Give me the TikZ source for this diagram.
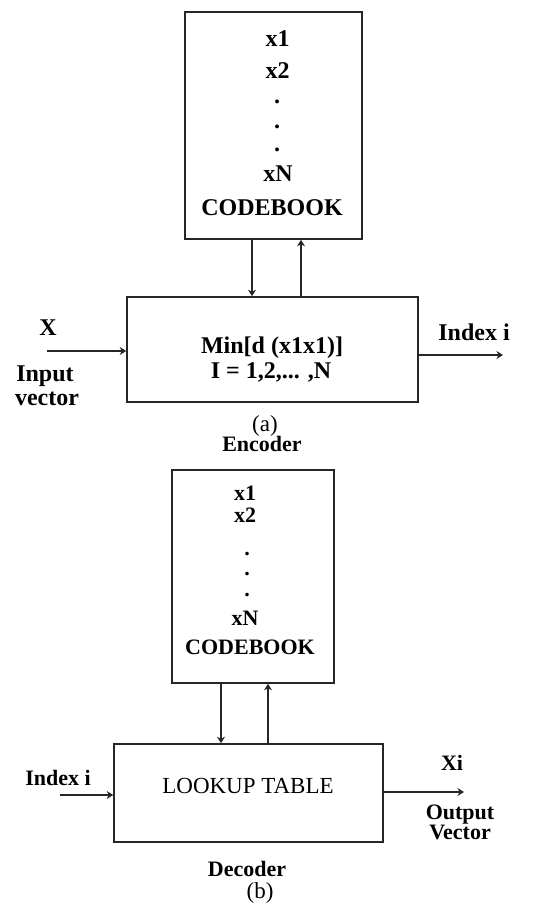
\documentclass[tikz,border=0pt]{standalone}
\usepackage{fontspec}
\setmainfont{Liberation Serif}
\usetikzlibrary{arrows.meta}
\begin{document}
\begin{tikzpicture}[x=1pt,y=-1pt,
  blk/.style={draw=black!85,line width=1.6pt,inner sep=0pt},
  lbl/.style={anchor=base,inner sep=0pt,font=\fontsize{24}{24}\selectfont\bfseries},
  lbs/.style={anchor=base,inner sep=0pt,font=\fontsize{22}{22}\selectfont\bfseries},
  plaintext/.style={anchor=base,inner sep=0pt,font=\fontsize{23}{23}\selectfont},
  conn/.style={line width=1.1pt,draw=black!85,-{Stealth[length=6.5pt,width=8pt]}}]
\useasboundingbox (0,0) rectangle (540,908);
% ---- (a) encoder ----
\node[blk,minimum width=177pt,minimum height=227pt] (cbA) at (273.5,125.5) {};
\node[lbl] (a1) at (277.5,46) {x1};
\node[lbl] (a2) at (277.5,78) {x2};
\node[lbl] (ad1) at (277,103) {.};
\node[lbl] (ad2) at (277,128) {.};
\node[lbl] (ad3) at (277,151) {.};
\node[lbl] (aN) at (278,181) {xN};
\node[lbl] (aCB) at (272,215) {CODEBOOK};
\node[blk,minimum width=291pt,minimum height=105pt] (minA) at (272.5,349.5) {};
\node[lbl] (minT) at (272,353) {Min[d (x1x1)]};
\node[lbl] (minI) at (271,378) {I = 1,2,... ,N};
\draw[conn] (cbA.south -| 252,0) -- (minA.north -| 252,0);
\draw[conn] (minA.north -| 301,0) -- (cbA.south -| 301,0);
\coordinate (inA) at (47,351);
\coordinate (outA) at (503,355);
\draw[conn] (inA) -- (minA.west |- inA);
\draw[conn] (minA.east |- outA) -- (outA);
\node[lbl] (xA) at (48,335) {X};
\node[lbl] (inpA) at (45,381) {Input};
\node[lbl] (vecA) at (47,405) {vector};
\node[lbl] (idxA) at (474,340) {Index i};
\node[plaintext] (capa) at (265,431) {(a)};
\node[lbs] (enc) at (262,451) {Encoder};
% ---- (b) decoder ----
\node[blk,minimum width=162pt,minimum height=213pt] (cbB) at (253,576.5) {};
\node[lbs] (b1) at (245,500) {x1};
\node[lbs] (b2) at (245,522) {x2};
\node[lbs] (bd1) at (247,555) {.};
\node[lbs] (bd2) at (247,575) {.};
\node[lbs] (bd3) at (247,596) {.};
\node[lbs] (bN) at (245,625) {xN};
\node[lbs] (bCB) at (250,654) {CODEBOOK};
\node[blk,minimum width=269pt,minimum height=98pt] (lkB) at (248.5,793) {};
\node[plaintext] (lkT) at (248,793) {LOOKUP TABLE};
\draw[conn] (cbB.south -| 221,0) -- (lkB.north -| 221,0);
\draw[conn] (lkB.north -| 268,0) -- (cbB.south -| 268,0);
\coordinate (inB) at (60,795);
\coordinate (outB) at (464,792);
\draw[conn] (inB) -- (lkB.west |- inB);
\draw[conn] (lkB.east |- outB) -- (outB);
\node[lbs] (idxB) at (58,785) {Index i};
\node[lbs] (xiB) at (452,770) {Xi};
\node[lbs] (outT) at (460,819) {Output};
\node[lbs] (vecB) at (460,839) {Vector};
\node[lbs] (dec) at (247,876) {Decoder};
\node[plaintext] (capb) at (260,898) {(b)};
\end{tikzpicture}
\end{document}
